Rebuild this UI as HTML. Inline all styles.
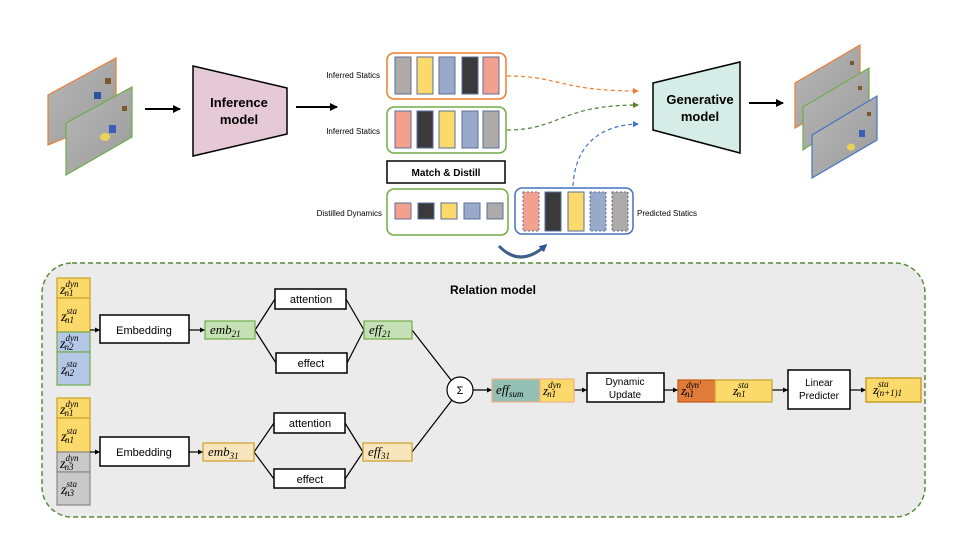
<!DOCTYPE html>
<html><head><meta charset="utf-8"><style>
html,body{margin:0;padding:0;background:#fff;}
svg{display:block;}
.s{font-family:"Liberation Sans",sans-serif;}
.m{font-family:"Liberation Serif",serif;font-style:italic;}
</style></head><body>
<svg width="963" height="533" viewBox="0 0 963 533" xmlns="http://www.w3.org/2000/svg">
<defs>
<marker id="ar" markerWidth="8" markerHeight="8" refX="7" refY="4" orient="auto" markerUnits="userSpaceOnUse"><path d="M0,0 L8,4 L0,8 z" fill="#000"/></marker>
<marker id="as" markerWidth="5" markerHeight="5" refX="5" refY="2.5" orient="auto" markerUnits="userSpaceOnUse"><path d="M0,0 L5,2.5 L0,5 z" fill="#000"/></marker>
<marker id="ao" markerWidth="6" markerHeight="6" refX="5" refY="3" orient="auto" markerUnits="userSpaceOnUse"><path d="M0,0 L6,3 L0,6 z" fill="#ed7d31"/></marker>
<marker id="ag" markerWidth="6" markerHeight="6" refX="5" refY="3" orient="auto" markerUnits="userSpaceOnUse"><path d="M0,0 L6,3 L0,6 z" fill="#548235"/></marker>
<marker id="ab" markerWidth="6" markerHeight="6" refX="5" refY="3" orient="auto" markerUnits="userSpaceOnUse"><path d="M0,0 L6,3 L0,6 z" fill="#4472c4"/></marker>
<marker id="ad" markerWidth="8" markerHeight="8" refX="5" refY="4" orient="auto" markerUnits="userSpaceOnUse"><path d="M0,0 L8,4 L0,8 z" fill="#2f5597"/></marker>
<linearGradient id="fr" x1="0" y1="0" x2="1" y2="1"><stop offset="0" stop-color="#b8b8b8"/><stop offset="1" stop-color="#9a9a9a"/></linearGradient>
</defs>

<!-- left frames -->
<polygon points="48,95 116,58 116,117 48,145" fill="url(#fr)" stroke="#ed7d31" stroke-width="1.2"/>
<rect x="94" y="92" width="7" height="7" fill="#2f52a0"/>
<polygon points="66,123 132,87 132,137 66,175" fill="url(#fr)" stroke="#70ad47" stroke-width="1.2"/>
<rect x="109" y="125" width="7" height="8" fill="#3a5fb8"/>
<ellipse cx="105" cy="137" rx="5" ry="4" fill="#e8d25a"/>
<rect x="122" y="106" width="5" height="5" fill="#7a5a2a"/>
<rect x="105" y="78" width="6" height="6" fill="#7a5a2a"/>
<line x1="145" y1="109" x2="180" y2="109" stroke="#000" stroke-width="2" marker-end="url(#ar)"/>

<!-- inference -->
<polygon points="193,66 287,88 287,134 193,156" fill="#e6c9d6" stroke="#000" stroke-width="1.5"/>
<text x="239" y="107" class="s" font-size="13" font-weight="bold" text-anchor="middle">Inference</text>
<text x="239" y="124" class="s" font-size="13" font-weight="bold" text-anchor="middle">model</text>
<line x1="296" y1="107" x2="337" y2="107" stroke="#000" stroke-width="2" marker-end="url(#ar)"/>

<text x="380" y="78" class="s" font-size="8" text-anchor="end">Inferred  Statics</text>
<text x="380" y="134" class="s" font-size="8" text-anchor="end">Inferred Statics</text>
<text x="382" y="216" class="s" font-size="8" text-anchor="end">Distilled Dynamics</text>

<rect x="387" y="53" width="119" height="46" rx="7" fill="#fff" stroke="#ed7d31" stroke-width="1.5"/>
<g stroke="#5a6f99" stroke-width="1">
<rect x="395" y="57" width="16" height="37" fill="#aeaaaa"/>
<rect x="417" y="57" width="16" height="37" fill="#fbd96a"/>
<rect x="439" y="57" width="16" height="37" fill="#98a9ca"/>
<rect x="462" y="57" width="16" height="37" fill="#3a3a3a"/>
<rect x="483" y="57" width="16" height="37" fill="#f4a08f"/>
</g>
<rect x="387" y="107" width="119" height="46" rx="7" fill="#fff" stroke="#70ad47" stroke-width="1.5"/>
<g stroke="#5a6f99" stroke-width="1">
<rect x="395" y="111" width="16" height="37" fill="#f4a08f"/>
<rect x="417" y="111" width="16" height="37" fill="#3a3a3a"/>
<rect x="439" y="111" width="16" height="37" fill="#fbd96a"/>
<rect x="462" y="111" width="16" height="37" fill="#98a9ca"/>
<rect x="483" y="111" width="16" height="37" fill="#aeaaaa"/>
</g>
<rect x="387" y="161" width="118" height="22" fill="#fff" stroke="#000" stroke-width="1.5"/>
<text x="446" y="176" class="s" font-size="10" font-weight="bold" text-anchor="middle">Match &amp; Distill</text>
<rect x="387" y="189" width="121" height="46" rx="7" fill="#fff" stroke="#70ad47" stroke-width="1.5"/>
<g stroke="#5a6f99" stroke-width="1">
<rect x="395" y="203" width="16" height="16" fill="#f4a08f"/>
<rect x="418" y="203" width="16" height="16" fill="#3a3a3a"/>
<rect x="441" y="203" width="16" height="16" fill="#fbd96a"/>
<rect x="464" y="203" width="16" height="16" fill="#98a9ca"/>
<rect x="487" y="203" width="16" height="16" fill="#aeaaaa"/>
</g>
<rect x="515" y="188" width="118" height="46" rx="7" fill="#fff" stroke="#4472c4" stroke-width="1.5"/>
<g stroke="#5a6f99" stroke-width="1">
<rect x="523" y="192" width="16" height="39" fill="#f4a08f" stroke-dasharray="2,2"/>
<rect x="545" y="192" width="16" height="39" fill="#3a3a3a"/>
<rect x="568" y="192" width="16" height="39" fill="#fbd96a"/>
<rect x="590" y="192" width="16" height="39" fill="#98a9ca" stroke-dasharray="2,2"/>
<rect x="612" y="192" width="16" height="39" fill="#aeaaaa" stroke-dasharray="2,2"/>
</g>
<text x="637" y="216" class="s" font-size="8">Predicted Statics</text>
<path d="M499,246 Q520,268 545,246" fill="none" stroke="#3d5f8a" stroke-width="3" marker-end="url(#ad)"/>

<path d="M507,76 C560,76 560,91 638,91" fill="none" stroke="#ed7d31" stroke-width="1.2" stroke-dasharray="4,3" marker-end="url(#ao)"/>
<path d="M507,130 C560,130 560,105 638,105" fill="none" stroke="#548235" stroke-width="1.2" stroke-dasharray="4,3" marker-end="url(#ag)"/>
<path d="M573,186 C575,145 600,125 638,124" fill="none" stroke="#4472c4" stroke-width="1.2" stroke-dasharray="4,3" marker-end="url(#ab)"/>

<polygon points="653,83 740,62 740,153 653,130" fill="#d5ede6" stroke="#000" stroke-width="1.5"/>
<text x="700" y="104" class="s" font-size="13" font-weight="bold" text-anchor="middle">Generative</text>
<text x="700" y="121" class="s" font-size="13" font-weight="bold" text-anchor="middle">model</text>
<line x1="749" y1="103" x2="783" y2="103" stroke="#000" stroke-width="2" marker-end="url(#ar)"/>

<polygon points="795,83 860,45 860,90 795,128" fill="url(#fr)" stroke="#ed7d31" stroke-width="1.2"/>
<rect x="850" y="61" width="4" height="4" fill="#7a5a2a"/>
<polygon points="803,107 869,68 869,105 803,150" fill="url(#fr)" stroke="#70ad47" stroke-width="1.2"/>
<rect x="858" y="86" width="4" height="4" fill="#7a5a2a"/>
<polygon points="812,135 877,96 877,140 812,178" fill="url(#fr)" stroke="#4472c4" stroke-width="1.2"/>
<rect x="859" y="130" width="6" height="7" fill="#3a5fb8"/>
<ellipse cx="851" cy="147" rx="4" ry="3.5" fill="#e8d25a"/>
<rect x="867" y="112" width="4" height="4" fill="#7a5a2a"/>

<rect x="42" y="263" width="883" height="254" rx="30" fill="#ebebeb" stroke="#5a8a3a" stroke-width="1.5" stroke-dasharray="5,3"/>
<text x="493" y="294" class="s" font-size="12" font-weight="bold" text-anchor="middle">Relation model</text>

<g stroke-width="1.2">
<rect x="57" y="278" width="33" height="20" fill="#fbd96a" stroke="#c9a227"/>
<rect x="57" y="298" width="33" height="34" fill="#fbd96a" stroke="#c9a227"/>
<rect x="57" y="332" width="33" height="20" fill="#b4c7e7" stroke="#70ad47"/>
<rect x="57" y="352" width="33" height="33" fill="#b4c7e7" stroke="#70ad47"/>
<rect x="57" y="398" width="33" height="20" fill="#fbd96a" stroke="#c9a227"/>
<rect x="57" y="418" width="33" height="34" fill="#fbd96a" stroke="#c9a227"/>
<rect x="57" y="452" width="33" height="20" fill="#c9c9c9" stroke="#888"/>
<rect x="57" y="472" width="33" height="33" fill="#c9c9c9" stroke="#888"/>
</g>
<g class="m" font-size="14">
<text x="60" y="294">z<tspan font-size="9" dy="-7">dyn</tspan><tspan font-size="9" dx="-14" dy="9">n1</tspan></text>
<text x="61" y="321">z<tspan font-size="9" dy="-7">sta</tspan><tspan font-size="9" dx="-12" dy="9">n1</tspan></text>
<text x="60" y="348">z<tspan font-size="9" dy="-7">dyn</tspan><tspan font-size="9" dx="-14" dy="9">n2</tspan></text>
<text x="61" y="374">z<tspan font-size="9" dy="-7">sta</tspan><tspan font-size="9" dx="-12" dy="9">n2</tspan></text>
<text x="60" y="414">z<tspan font-size="9" dy="-7">dyn</tspan><tspan font-size="9" dx="-14" dy="9">n1</tspan></text>
<text x="61" y="441">z<tspan font-size="9" dy="-7">sta</tspan><tspan font-size="9" dx="-12" dy="9">n1</tspan></text>
<text x="60" y="468">z<tspan font-size="9" dy="-7">dyn</tspan><tspan font-size="9" dx="-14" dy="9">n3</tspan></text>
<text x="61" y="494">z<tspan font-size="9" dy="-7">sta</tspan><tspan font-size="9" dx="-12" dy="9">n3</tspan></text>
</g>

<g stroke="#000" stroke-width="1.2" fill="none">
<line x1="90" y1="330" x2="100" y2="330" marker-end="url(#as)"/>
<line x1="90" y1="452" x2="100" y2="452" marker-end="url(#as)"/>
<line x1="189" y1="330" x2="205" y2="330" marker-end="url(#as)"/>
<line x1="189" y1="452" x2="203" y2="452" marker-end="url(#as)"/>
<polyline points="255,330 275,299"/><polyline points="255,330 276,363"/>
<polyline points="346,299 364,330"/><polyline points="347,363 364,330"/>
<polyline points="254,452 274,423"/><polyline points="254,452 274,479"/>
<polyline points="345,423 363,452"/><polyline points="345,479 363,452"/>
<line x1="412" y1="330" x2="451" y2="380"/>
<line x1="412" y1="452" x2="452" y2="400"/>
<line x1="473" y1="390" x2="492" y2="390" marker-end="url(#as)"/>
<line x1="574" y1="390" x2="587" y2="390" marker-end="url(#as)"/>
<line x1="664" y1="390" x2="678" y2="390" marker-end="url(#as)"/>
<line x1="772" y1="390" x2="788" y2="390" marker-end="url(#as)"/>
<line x1="850" y1="390" x2="866" y2="390" marker-end="url(#as)"/>
</g>

<g fill="#fff" stroke="#000" stroke-width="1.5">
<rect x="100" y="315" width="89" height="28"/>
<rect x="100" y="437" width="89" height="29"/>
<rect x="275" y="289" width="71" height="20"/>
<rect x="276" y="353" width="71" height="20"/>
<rect x="274" y="413" width="71" height="20"/>
<rect x="274" y="469" width="71" height="19"/>
<rect x="587" y="373" width="77" height="29"/>
<rect x="788" y="370" width="62" height="39"/>
</g>
<circle cx="460" cy="390" r="13" fill="#fff" stroke="#000" stroke-width="1.2"/>
<text x="460" y="394" class="s" font-size="11" text-anchor="middle">Σ</text>
<g class="s" font-size="11" text-anchor="middle">
<text x="144" y="334">Embedding</text>
<text x="144" y="456">Embedding</text>
<text x="311" y="303">attention</text>
<text x="311" y="367">effect</text>
<text x="310" y="427">attention</text>
<text x="310" y="483">effect</text>
<text x="625" y="385" font-size="10">Dynamic</text>
<text x="625" y="398" font-size="10">Update</text>
<text x="819" y="386" font-size="10">Linear</text>
<text x="819" y="399" font-size="10">Predicter</text>
</g>

<rect x="205" y="321" width="50" height="18" fill="#c5e0b4" stroke="#70ad47" stroke-width="1.2"/>
<rect x="203" y="443" width="51" height="18" fill="#f8e5bb" stroke="#c9a227" stroke-width="1.2"/>
<rect x="364" y="321" width="48" height="18" fill="#c5e0b4" stroke="#70ad47" stroke-width="1.2"/>
<rect x="363" y="443" width="49" height="18" fill="#f8e5bb" stroke="#c9a227" stroke-width="1.2"/>
<rect x="492" y="379" width="48" height="23" fill="#93c0b3" stroke="#f4b183" stroke-width="1.2"/>
<rect x="540" y="379" width="34" height="23" fill="#fbd96a" stroke="#f4b183" stroke-width="1.2"/>
<rect x="678" y="380" width="37" height="22" fill="#e07b39" stroke="#c55a11" stroke-width="1.2"/>
<rect x="715" y="380" width="57" height="22" fill="#fbd96a" stroke="#c9a227" stroke-width="1.2"/>
<rect x="866" y="378" width="55" height="24" fill="#fbd96a" stroke="#c9a227" stroke-width="1.5"/>

<g class="m" font-size="13">
<text x="210" y="334">emb<tspan font-size="9" dy="3">21</tspan></text>
<text x="208" y="456">emb<tspan font-size="9" dy="3">31</tspan></text>
<text x="369" y="334">eff<tspan font-size="9" dy="3">21</tspan></text>
<text x="368" y="456">eff<tspan font-size="9" dy="3">31</tspan></text>
<text x="496" y="394">eff<tspan font-size="9" dy="3">sum</tspan></text>
<text x="543" y="395">z<tspan font-size="9" dy="-7">dyn</tspan><tspan font-size="9" dx="-14" dy="9">n1</tspan></text>
<text x="681" y="395">z<tspan font-size="9" dy="-7">dyn'</tspan><tspan font-size="9" dx="-16" dy="9">n1</tspan></text>
<text x="733" y="395">z<tspan font-size="9" dy="-7">sta</tspan><tspan font-size="9" dx="-12" dy="9">n1</tspan></text>
<text x="873" y="394">z<tspan font-size="9" dy="-7">sta</tspan><tspan font-size="9" dx="-12" dy="9">(n+1)1</tspan></text>
</g>
</svg>
</body></html>
